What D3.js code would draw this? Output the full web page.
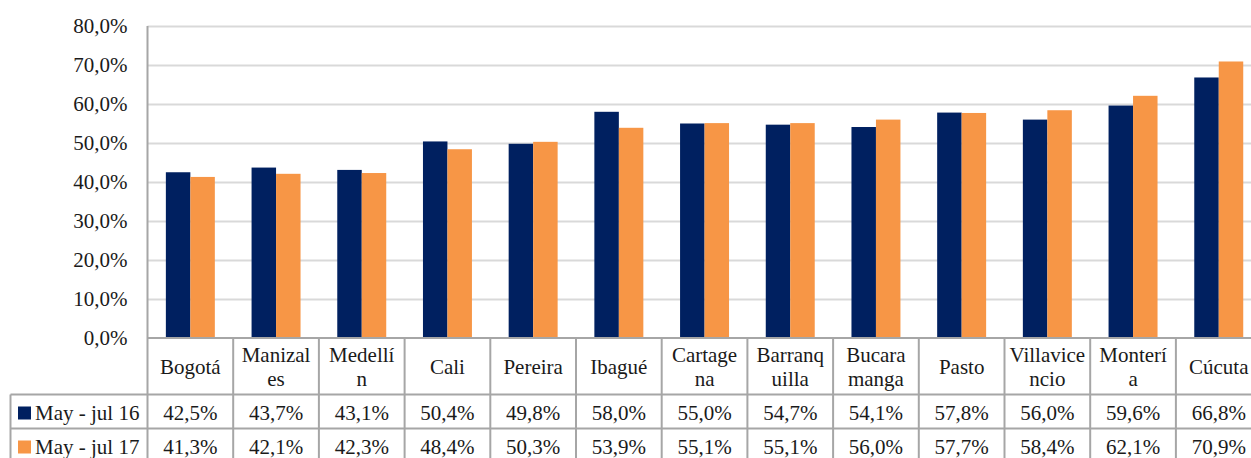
<!DOCTYPE html>
<html>
<head>
<meta charset="utf-8">
<script src="https://cdn.jsdelivr.net/npm/d3@7/dist/d3.min.js"></script>
<style>
  body { margin: 0; background: #fff; overflow: hidden; }
  text { font-family: "Liberation Serif", serif; font-size: 21px; fill: #1a1a1a; }
</style>
</head>
<body>
<div id="chart"></div>
<script>
// data
var cities = ["Bogotá", "Manizales", "Medellín", "Cali", "Pereira", "Ibagué", "Cartagena",
  "Barranquilla", "Bucaramanga", "Pasto", "Villavicencio", "Montería", "Cúcuta"];
// how the category cells wrap their names
var cityLines = [["Bogotá"], ["Manizal", "es"], ["Medellí", "n"], ["Cali"], ["Pereira"], ["Ibagué"],
  ["Cartage", "na"], ["Barranq", "uilla"], ["Bucara", "manga"], ["Pasto"], ["Villavice", "ncio"],
  ["Monterí", "a"], ["Cúcuta"]];
var seriesNames = ["May - jul 16", "May - jul 17"];
var may16 = [42.5, 43.7, 43.1, 50.4, 49.8, 58.0, 55.0, 54.7, 54.1, 57.8, 56.0, 59.6, 66.8];
var may17 = [41.3, 42.1, 42.3, 48.4, 50.3, 53.9, 55.1, 55.1, 56.0, 57.7, 58.4, 62.1, 70.9];
var yTicks = [0, 10, 20, 30, 40, 50, 60, 70, 80];

var colors = ["#002060", "#F79646"];
var width = 1251, height = 458;

var plotLeft = 147.5;
var colW = 85.7;
var plotTop = 26, plotBottom = 338;
var catRowBottom = 394.5;
var rowH = 34;
var legendLeft = 10.5;

var svg = d3.select("#chart").append("svg")
  .attr("width", width)
  .attr("height", height);

var fmt = function(v) { return v.toFixed(1).replace(".", ",") + "%"; };

var x0 = d3.scaleBand()
  .domain(cities)
  .range([plotLeft, plotLeft + colW * cities.length])
  .padding(0);

var x1 = d3.scaleBand()
  .domain([0, 1])
  .range([0, x0.bandwidth()])
  .paddingInner(0)
  .paddingOuter(0.75);

var y = d3.scaleLinear()
  .domain([0, 80])
  .range([plotBottom, plotTop]);

// gridlines
svg.append("g")
  .selectAll("line")
  .data(yTicks.slice(1))
  .enter()
  .append("line")
  .attr("x1", plotLeft)
  .attr("x2", width)
  .attr("y1", function(d) { return Math.round(y(d)) + 0.5; })
  .attr("y2", function(d) { return Math.round(y(d)) + 0.5; })
  .attr("stroke", "#d9d9d9")
  .attr("stroke-width", 2);

// y axis labels
var yAxis = d3.axisLeft(y)
  .tickValues(yTicks)
  .tickSize(0)
  .tickPadding(20)
  .tickFormat(function(d) { return d.toFixed(1).replace(".", ",") + "%"; });

var yg = svg.append("g")
  .attr("transform", "translate(" + plotLeft + ",0)")
  .call(yAxis);
yg.select(".domain").remove();
yg.selectAll("text")
  .attr("font-family", "Liberation Serif, serif")
  .attr("font-size", 21)
  .attr("fill", "#1a1a1a")
  .attr("dy", "0.3em");

// bars
var groups = svg.append("g")
  .selectAll("g")
  .data(cities)
  .enter()
  .append("g")
  .attr("transform", function(d) { return "translate(" + x0(d) + ",0)"; });

groups.selectAll("rect")
  .data(function(d, i) { return [may16[i], may17[i]]; })
  .enter()
  .append("rect")
  .attr("x", function(d, j) { return x1(j); })
  .attr("y", function(d) { return y(d); })
  .attr("width", x1.bandwidth())
  .attr("height", function(d) { return plotBottom - y(d); })
  .attr("fill", function(d, j) { return colors[j]; });

// table
var border = "#a6a6a6";
var tbl = svg.append("g");

// vertical lines of category columns
var xEdges = cities.map(function(c) { return x0(c); });
xEdges.push(x0(cities[cities.length - 1]) + colW);
tbl.selectAll("line.v")
  .data(xEdges)
  .enter()
  .append("line")
  .attr("class", "v")
  .attr("x1", function(d) { return d; })
  .attr("x2", function(d) { return d; })
  .attr("y1", function(d, i) { return i === 0 ? plotTop : plotBottom; })
  .attr("y2", height)
  .attr("stroke", border)
  .attr("stroke-width", 2);

// horizontal lines
var hLines = [
  { y: plotBottom, x1: plotLeft },
  { y: catRowBottom, x1: legendLeft },
  { y: catRowBottom + rowH, x1: legendLeft }
];
tbl.selectAll("line.h")
  .data(hLines)
  .enter()
  .append("line")
  .attr("class", "h")
  .attr("x1", function(d) { return d.x1; })
  .attr("x2", width)
  .attr("y1", function(d) { return d.y; })
  .attr("y2", function(d) { return d.y; })
  .attr("stroke", border)
  .attr("stroke-width", 2);

// legend column left border
tbl.append("line")
  .attr("x1", legendLeft).attr("x2", legendLeft)
  .attr("y1", catRowBottom).attr("y2", height)
  .attr("stroke", border)
  .attr("stroke-width", 2);

// category names
var catText = tbl.selectAll("text.cat")
  .data(cities)
  .enter()
  .append("text")
  .attr("class", "cat")
  .attr("text-anchor", "middle")
  .attr("x", function(d) { return x0(d) + colW / 2; });

catText.each(function(d, i) {
  var lines = cityLines[i];
  var base = lines.length === 1 ? 374 : 362;
  d3.select(this).selectAll("tspan")
    .data(lines)
    .enter()
    .append("tspan")
    .attr("x", x0(d) + colW / 2)
    .attr("y", function(l, k) { return base + k * 23.5; })
    .text(function(l) { return l; });
});

// value rows
[may16, may17].forEach(function(vals, s) {
  var baseY = catRowBottom + s * rowH + 25;
  tbl.append("g")
    .selectAll("text")
    .data(vals)
    .enter()
    .append("text")
    .attr("text-anchor", "middle")
    .attr("x", function(d, i) { return x0(cities[i]) + colW / 2; })
    .attr("y", baseY)
    .text(fmt);

  tbl.append("rect")
    .attr("x", 18)
    .attr("y", baseY - 13)
    .attr("width", 13)
    .attr("height", 13)
    .attr("fill", colors[s]);

  tbl.append("text")
    .attr("x", 35)
    .attr("y", baseY)
    .text(seriesNames[s]);
});
</script>
</body>
</html>
